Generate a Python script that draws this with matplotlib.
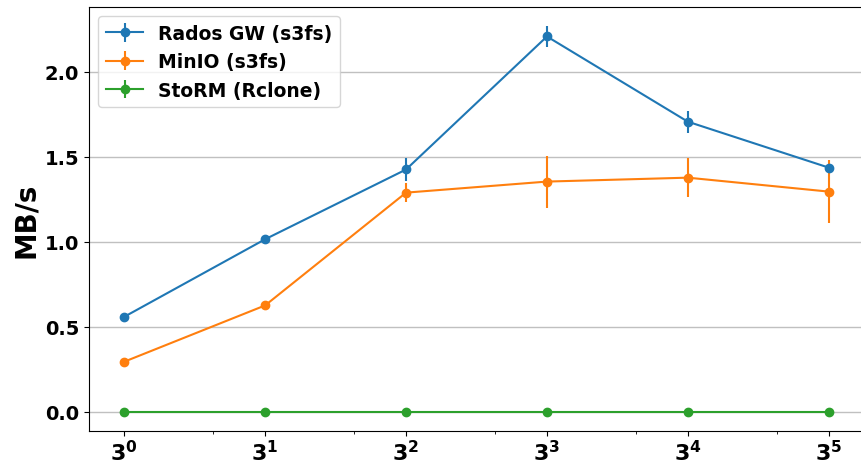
import numpy as np
import matplotlib.pyplot as plt

x = [1, 3, 9, 27, 81, 243]
rados = [0.558, 1.014, 1.424, 2.206, 1.705, 1.435]
rados_err = [0.01, 0.01, 0.07, 0.06, 0.065, 0.02]
minio = [0.294, 0.625, 1.288, 1.353, 1.376, 1.294]
minio_err = [0.005, 0.01, 0.055, 0.153, 0.115, 0.185]
storm = [0.0, 0.0, 0.0, 0.0, 0.0, 0.0]
storm_err = [0.0, 0.0, 0.0, 0.0, 0.0, 0.0]
xlabels = [r'$\mathbf{3^{%d}}$' % i for i in range(6)]

plt.rcParams['font.weight'] = 'bold'
plt.rcParams['axes.labelweight'] = 'bold'

fig = plt.figure(figsize=(8.61, 4.64), dpi=100)
ax = fig.add_axes([89 / 861, 32 / 464, 775 / 861, 424 / 464])

ax.errorbar(x, rados, yerr=rados_err, marker='o', label='Rados GW (s3fs)')
ax.errorbar(x, minio, yerr=minio_err, marker='o', label='MinIO (s3fs)')
ax.errorbar(x, storm, yerr=storm_err, marker='o', label='StoRM (Rclone)')

ax.set_xscale('log', base=3)
ax.set_xticks(x)
ax.set_xticklabels(xlabels, fontsize=16)
ax.tick_params(axis='x', pad=2)
ax.tick_params(axis='y', labelsize=14)
ax.set_ylabel('MB/s', fontsize=20, fontweight='bold', labelpad=3)
ax.yaxis.grid(True, color='#c0c0c0', linewidth=1)
ax.set_axisbelow(True)
ax.legend(loc='upper left', prop={'weight': 'bold', 'size': 13.5})

plt.savefig('out.png')
